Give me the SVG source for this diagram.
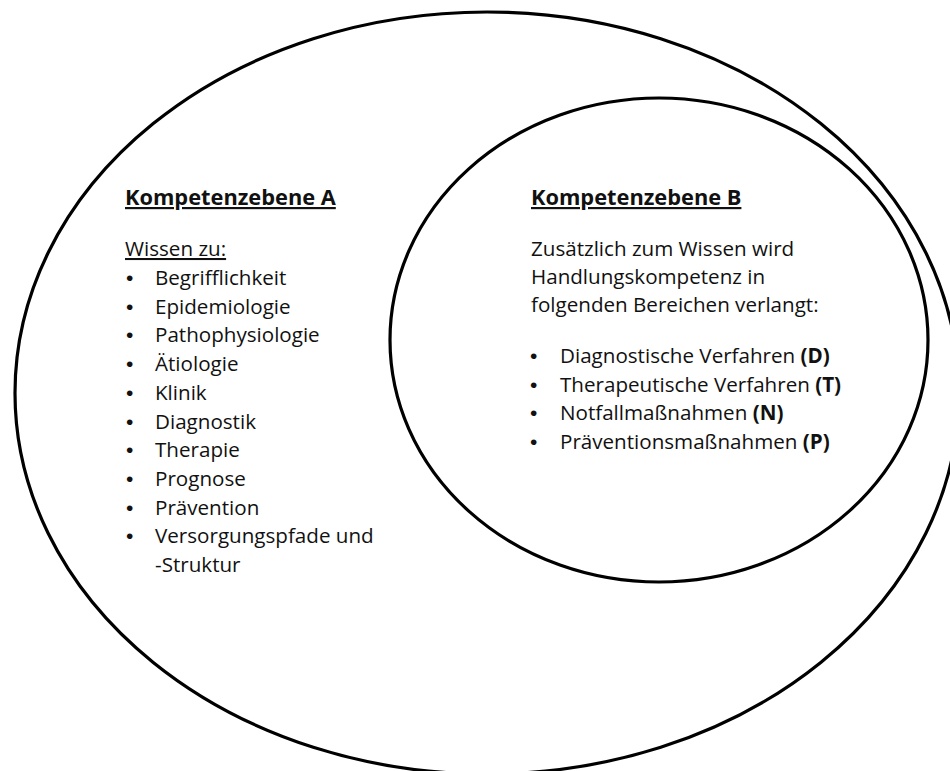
<svg xmlns="http://www.w3.org/2000/svg" width="950" height="771" viewBox="0 0 950 771">
<style>
.ring{fill:none;stroke:#000;stroke-width:3.2}
text{font-family:"Open Sans","Noto Sans","Liberation Sans",sans-serif;font-size:20.6px;fill:#111}
.h{font-weight:bold;text-decoration:underline;font-size:21.8px}
.u{text-decoration:underline}
.b{font-weight:bold}
.dot{font-family:"Liberation Sans",Arial,sans-serif;font-size:21px}
</style>
<rect width="950" height="771" fill="#fff"/>
<g id="ebene-a">
<ellipse class="ring" cx="487" cy="393" rx="472" ry="381"/>
<text class="h" x="125" y="205">Kompetenzebene A</text>
<text class="u" x="125" y="256">Wissen zu:</text>
<g id="liste-a">
<text class="dot" x="126" y="285">•</text><text x="155" y="285">Begrifflichkeit</text>
<text class="dot" x="126" y="313.7">•</text><text x="155" y="313.7">Epidemiologie</text>
<text class="dot" x="126" y="342.4">•</text><text x="155" y="342.4">Pathophysiologie</text>
<text class="dot" x="126" y="371.1">•</text><text x="155" y="371.1">Ätiologie</text>
<text class="dot" x="126" y="399.8">•</text><text x="155" y="399.8">Klinik</text>
<text class="dot" x="126" y="428.5">•</text><text x="155" y="428.5">Diagnostik</text>
<text class="dot" x="126" y="457.2">•</text><text x="155" y="457.2">Therapie</text>
<text class="dot" x="126" y="485.9">•</text><text x="155" y="485.9">Prognose</text>
<text class="dot" x="126" y="514.6">•</text><text x="155" y="514.6">Prävention</text>
<text class="dot" x="126" y="543.3">•</text><text x="155" y="543.3">Versorgungspfade und</text>
<text x="155" y="572">-Struktur</text>
</g>
</g>
<g id="ebene-b">
<ellipse class="ring" cx="659" cy="340" rx="269" ry="242"/>
<text class="h" x="531" y="205">Kompetenzebene B</text>
<text x="531" y="256">Zusätzlich zum Wissen wird</text>
<text x="531" y="284">Handlungskompetenz in</text>
<text x="531" y="312">folgenden Bereichen verlangt:</text>
<g id="liste-b">
<text class="dot" x="530" y="363">•</text><text x="560" y="363">Diagnostische Verfahren <tspan class="b">(D)</tspan></text>
<text class="dot" x="530" y="392">•</text><text x="560" y="392">Therapeutische Verfahren <tspan class="b">(T)</tspan></text>
<text class="dot" x="530" y="420">•</text><text x="560" y="420">Notfallmaßnahmen <tspan class="b">(N)</tspan></text>
<text class="dot" x="530" y="449">•</text><text x="560" y="449">Präventionsmaßnahmen <tspan class="b">(P)</tspan></text>
</g>
</g>
<g id="connectors"></g>
</svg>
